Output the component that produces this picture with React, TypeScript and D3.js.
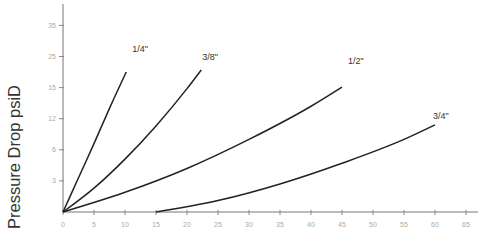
import React from "react";
import * as d3 from "d3";

const xTicks = [0, 5, 10, 15, 20, 25, 30, 35, 40, 45, 50, 55, 60, 65];
const yTicks = [3, 6, 9, 12, 15, 18];
const yTickLabels = ["3", "6", "12", "15", "25", "35"];

const series14x = [0, 2.5, 5, 7.5, 10.2];
const series14y = [0, 3.3, 6.6, 10.0, 13.5];
const series38x = [0, 5, 10, 15, 20, 22.3];
const series38y = [0, 2.3, 5.1, 8.3, 11.9, 13.7];
const series12x = [0, 10, 20, 30, 40, 45];
const series12y = [0, 1.9, 4.2, 7.0, 10.2, 12.05];
const series34x = [15, 25, 35, 45, 55, 60];
const series34y = [0, 1.1, 2.7, 4.7, 7.0, 8.4];

const seriesNames = ['1/4"', '3/8"', '1/2"', '3/4"'];

export default function App() {
  const W = 478, H = 246;
  const x = d3.scaleLinear().domain([0, 65]).range([63, 466]);
  const y = d3.scaleLinear().domain([0, 3]).range([212, 180.9]);
  const line = d3.line<[number, number]>().x(d => x(d[0])).y(d => y(d[1])).curve(d3.curveMonotoneX);
  const all = [
    { xs: series14x, ys: series14y },
    { xs: series38x, ys: series38y },
    { xs: series12x, ys: series12y },
    { xs: series34x, ys: series34y },
  ];
  const labelPos = [
    { dx: 6, dy: -20 },
    { dx: 1, dy: -10 },
    { dx: 6, dy: -23 },
    { dx: -2, dy: -6 },
  ];
  return (
    <svg width={W} height={H} style={{ position: "absolute", left: 0, top: 0, background: "#fff" }}
      fontFamily="Liberation Sans, Arial, sans-serif">
      <line x1={63} x2={63} y1={4} y2={212} stroke="#777" strokeWidth={1} />
      <line x1={63} x2={478} y1={212} y2={212} stroke="#777" strokeWidth={1} />
      {xTicks.map(t => (
        <g key={t}>
          <line x1={x(t)} x2={x(t)} y1={210} y2={215} stroke="#888" strokeWidth={1} />
          <text x={x(t)} y={227} fontSize={7} fill="#aaa" textAnchor="middle">{t}</text>
        </g>
      ))}
      {yTicks.map((t, i) => (
        <g key={t}>
          <line x1={59} x2={64} y1={y(t)} y2={y(t)} stroke="#888" strokeWidth={1} />
          <text x={56} y={y(t) + 2.5} fontSize={7} fill="#aaa" textAnchor="end">{yTickLabels[i]}</text>
        </g>
      ))}
      <text transform="translate(20,157) rotate(-90)" fontSize={16.5} fill="#333" textAnchor="middle">Pressure Drop psiD</text>
      {all.map((s, i) => {
        const pts: [number, number][] = s.xs.map((v, j) => [v, s.ys[j]]);
        const last = pts[pts.length - 1];
        return (
          <g key={i}>
            <path d={line(pts) || ""} fill="none" stroke="#222" strokeWidth={1.5} />
            <text x={x(last[0]) + labelPos[i].dx} y={y(last[1]) + labelPos[i].dy} fontSize={9} fill="#333">{seriesNames[i]}</text>
          </g>
        );
      })}
    </svg>
  );
}
